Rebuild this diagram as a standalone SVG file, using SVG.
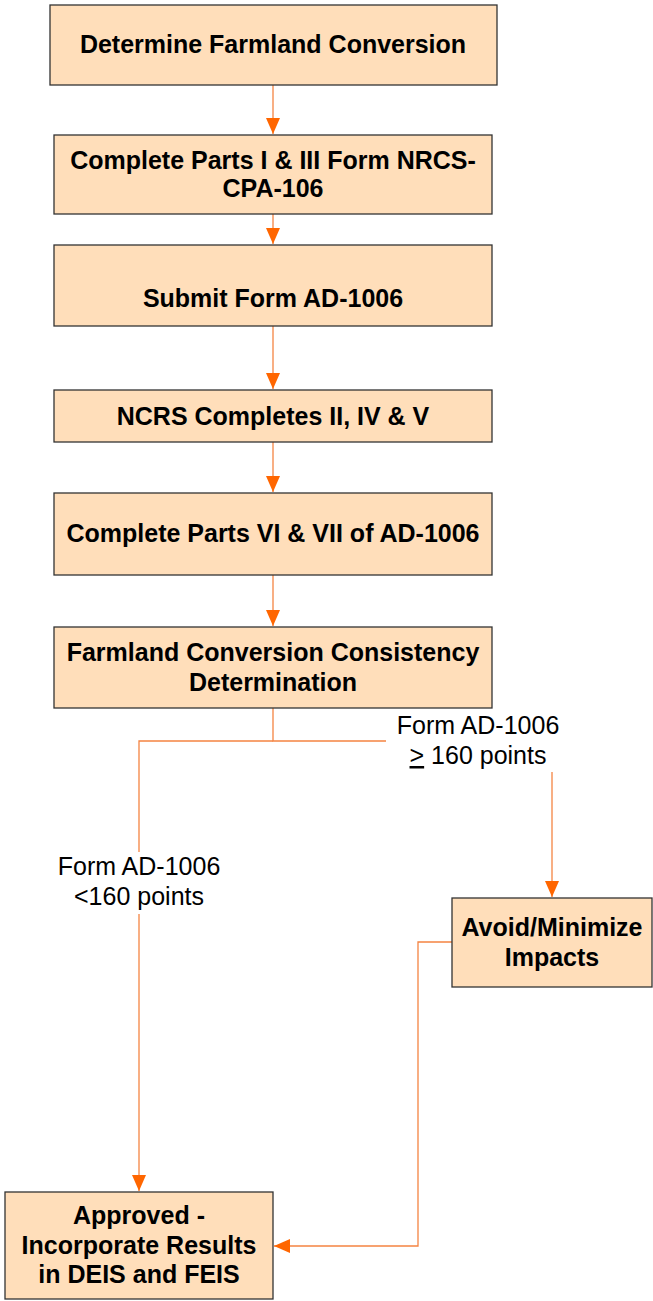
<svg xmlns="http://www.w3.org/2000/svg" width="653" height="1301" viewBox="0 0 653 1301">
<defs>
<style>
.box{fill:#FFDEBA;stroke:#333;stroke-width:1.3}
.t{font-family:"Liberation Sans",Arial,sans-serif;font-weight:bold;font-size:25px;fill:#000;text-anchor:middle}
.l{font-family:"Liberation Sans",Arial,sans-serif;font-size:25px;fill:#000;text-anchor:middle}
.c{fill:none;stroke:#F58442;stroke-width:1.3}
</style>
<marker id="ah" markerWidth="16" markerHeight="14" refX="16" refY="7" orient="auto" markerUnits="userSpaceOnUse">
<path d="M0,0 L16,7 L0,14 Z" fill="#FF6600"/>
</marker>
</defs>
<rect width="653" height="1301" fill="#fff"/>
<g id="connectors">
<path class="c" d="M273,85 V134" marker-end="url(#ah)"/>
<path class="c" d="M273,214 V244" marker-end="url(#ah)"/>
<path class="c" d="M273,326 V389" marker-end="url(#ah)"/>
<path class="c" d="M273,442 V492" marker-end="url(#ah)"/>
<path class="c" d="M273,575 V626" marker-end="url(#ah)"/>
<path class="c" d="M273,708 V741 H386"/>
<path class="c" d="M273,741 H139 V852"/>
<path class="c" d="M139,914 V1191" marker-end="url(#ah)"/>
<path class="c" d="M552,772 V897" marker-end="url(#ah)"/>
<path class="c" d="M452,942 H418 V1246 H274" marker-end="url(#ah)"/>
</g>
<g id="n1"><rect class="box" x="50" y="5" width="447" height="80"/><text class="t" x="273" y="53">Determine Farmland Conversion</text></g>
<g id="n2"><rect class="box" x="54" y="135" width="438" height="79"/><text class="t" x="273" y="169">Complete Parts I &amp; III Form NRCS-</text><text class="t" x="273" y="197">CPA-106</text></g>
<g id="n3"><rect class="box" x="54" y="245" width="438" height="81"/><text class="t" x="273" y="307">Submit Form AD-1006</text></g>
<g id="n4"><rect class="box" x="54" y="390" width="438" height="52"/><text class="t" x="273" y="425">NCRS Completes II, IV &amp; V</text></g>
<g id="n5"><rect class="box" x="54" y="493" width="438" height="82"/><text class="t" x="273" y="542">Complete Parts VI &amp; VII of AD-1006</text></g>
<g id="n6"><rect class="box" x="54" y="627" width="438" height="81"/><text class="t" x="273" y="661">Farmland Conversion Consistency</text><text class="t" x="273" y="691">Determination</text></g>
<g id="n7"><rect class="box" x="5" y="1192" width="268" height="107"/><text class="t" x="139" y="1224">Approved -</text><text class="t" x="139" y="1254">Incorporate Results</text><text class="t" x="139" y="1283">in DEIS and FEIS</text></g>
<g id="n8"><rect class="box" x="452" y="898" width="200" height="89"/><text class="t" x="552" y="936">Avoid/Minimize</text><text class="t" x="552" y="966">Impacts</text></g>
<g id="labels">
<text class="l" x="478" y="734">Form AD-1006</text>
<text class="l" x="478" y="764"><tspan text-decoration="underline">&gt;</tspan> 160 points</text>
<text class="l" x="139" y="875">Form AD-1006</text>
<text class="l" x="139" y="905">&lt;160 points</text>
</g>
</svg>
